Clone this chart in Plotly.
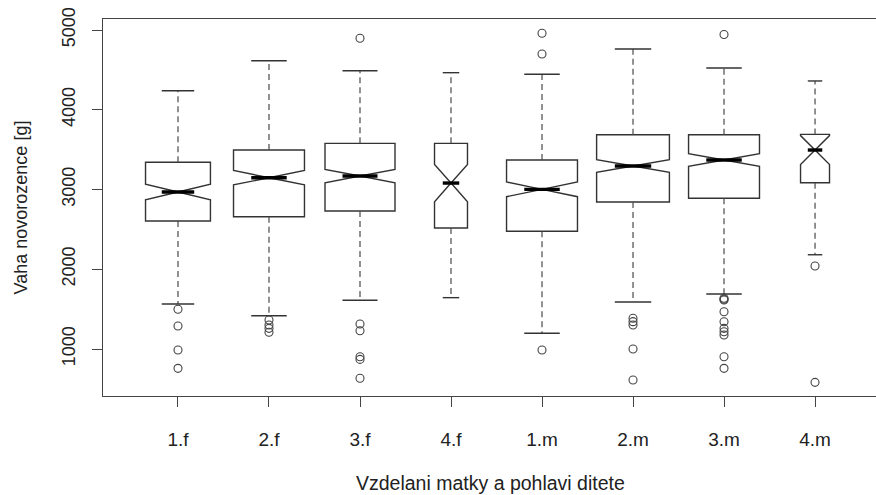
import numpy as np
import plotly.graph_objects as go

categories = ["1.f", "2.f", "3.f", "4.f", "1.m", "2.m", "3.m", "4.m"]
counts = [221, 264, 257, 57, 264, 278, 264, 44]
q1 = [2605, 2659, 2730, 2517, 2476, 2843, 2890, 3085]
median = [2969, 3148, 3169, 3081, 3002, 3295, 3370, 3495]
q3 = [3341, 3495, 3579, 3579, 3370, 3687, 3687, 3691]
notch_half = [98, 90, 84, 234, 92, 80, 80, 181]
whisker_lo = [1564, 1418, 1611, 1644, 1197, 1589, 1690, 2182]
whisker_hi = [4239, 4615, 4490, 4465, 4445, 4762, 4524, 4361]
outliers = [
    [1498, 1288, 987, 758],
    [1364, 1301, 1259, 1210],
    [4896, 1313, 1229, 903, 870, 633],
    [],
    [4959, 4699, 987],
    [1385, 1343, 1301, 1000, 611],
    [4944, 1636, 1625, 1615, 1468, 1342, 1259, 1217, 1176, 903, 758],
    [2041, 582],
]
y_ticks = [1000, 2000, 3000, 4000, 5000]
x_title = "Vzdelani matky a pohlavi ditete"
y_title = "Vaha novorozence [g]"

pos = np.arange(len(categories), dtype=float)
nmax = max(counts)
widths = [0.8 * np.sqrt(n / nmax) for n in counts]

LINE = "#333333"
AX = "#444444"
TXT = "#222222"
FONT = "Liberation Sans, Arial, sans-serif"

fig = go.Figure()

# boxes (notched, whiskers drawn separately)
for i, c in enumerate(categories):
    fig.add_trace(go.Box(
        x=[pos[i]], q1=[q1[i]], median=[median[i]], q3=[q3[i]],
        lowerfence=[q1[i]], upperfence=[q3[i]], notchspan=[notch_half[i]],
        notched=True, notchwidth=0.5, width=widths[i], whiskerwidth=0,
        boxpoints=False, fillcolor="white",
        line=dict(color=LINE, width=1.4), name=c, hoverinfo="skip",
    ))

# dashed whiskers
wx, wy = [], []
for i in range(len(categories)):
    wx += [pos[i], pos[i], None, pos[i], pos[i], None]
    wy += [q3[i], whisker_hi[i], None, q1[i], whisker_lo[i], None]
fig.add_trace(go.Scatter(x=wx, y=wy, mode="lines",
                         line=dict(color="#4a4a4a", width=1.2, dash="6px,4px"),
                         hoverinfo="skip"))

# staples
sx, sy = [], []
for i in range(len(categories)):
    h = widths[i] / 4
    sx += [pos[i] - h, pos[i] + h, None, pos[i] - h, pos[i] + h, None]
    sy += [whisker_hi[i], whisker_hi[i], None, whisker_lo[i], whisker_lo[i], None]
fig.add_trace(go.Scatter(x=sx, y=sy, mode="lines",
                         line=dict(color=LINE, width=1.4), hoverinfo="skip"))

# thick medians
mx, my = [], []
for i in range(len(categories)):
    h = widths[i] / 4
    mx += [pos[i] - h, pos[i] + h, None]
    my += [median[i], median[i], None]
fig.add_trace(go.Scatter(x=mx, y=my, mode="lines",
                         line=dict(color="black", width=3.4), hoverinfo="skip"))

# outliers
ox, oy = [], []
for i, vals in enumerate(outliers):
    ox += [pos[i]] * len(vals)
    oy += vals
fig.add_trace(go.Scatter(x=ox, y=oy, mode="markers",
                         marker=dict(symbol="circle-open", size=8, color="#444444",
                                     line=dict(color="#444444", width=1.1)),
                         hoverinfo="skip"))

fig.add_annotation(text=x_title, x=3.43, xref="x", y=-0.231, yref="paper",
                   showarrow=False, xanchor="center", yanchor="middle",
                   font=dict(family=FONT, size=19.5, color=TXT))

fig.update_layout(
    width=876, height=495,
    margin=dict(l=103, r=0, t=19, b=99),
    showlegend=False,
    plot_bgcolor="white", paper_bgcolor="white",
    boxmode="overlay",
)
fig.update_xaxes(
    range=[-0.824, 7.67], tickmode="array", tickvals=pos, ticktext=categories,
    showline=True, mirror=True, linecolor=AX, linewidth=1.3,
    ticks="outside", ticklen=10, tickcolor=AX, tickwidth=1.3,
    showgrid=False, zeroline=False, ticklabelstandoff=16,
    tickfont=dict(family=FONT, size=19, color=TXT),
)
fig.update_yaxes(
    range=[411, 5138], tickmode="array", tickvals=y_ticks,
    ticktext=[str(v) for v in y_ticks], tickangle=-90,
    showline=True, mirror=False, linecolor=AX, linewidth=1.3,
    ticks="outside", ticklen=10, tickcolor=AX, tickwidth=1.3,
    showgrid=False, zeroline=False, ticklabelstandoff=10,
    tickfont=dict(family=FONT, size=18, color=TXT),
    title=dict(text=y_title, standoff=26, font=dict(family=FONT, size=18, color=TXT)),
)

fig.write_html("out.html", config={"displayModeBar": False},
               post_script="document.body.style.margin='0px';")
